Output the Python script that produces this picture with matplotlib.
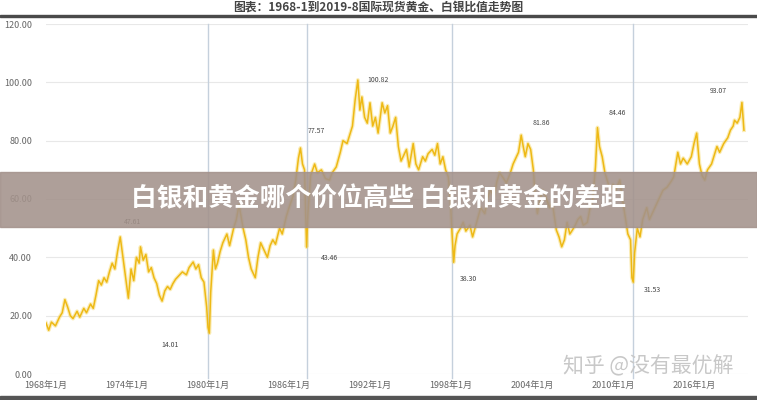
import matplotlib
matplotlib.use("Agg")
import matplotlib.pyplot as plt
from matplotlib.patches import Rectangle

plt.rcParams["font.family"] = ["Noto Sans CJK SC", "DejaVu Sans"]

# gold / silver ratio (year, ratio)
years = [
    1968.0, 1968.2, 1968.4, 1968.7, 1969.0, 1969.2, 1969.4, 1969.6, 1969.8, 1970.0,
    1970.3, 1970.5, 1970.8, 1971.0, 1971.3, 1971.5, 1971.7, 1971.9, 1972.1, 1972.3,
    1972.5, 1972.7, 1972.9, 1973.1, 1973.3, 1973.5, 1973.7, 1973.9, 1974.1, 1974.3,
    1974.5, 1974.7, 1974.9, 1975.0, 1975.2, 1975.4, 1975.6, 1975.8, 1976.0, 1976.2,
    1976.4, 1976.6, 1976.8, 1977.0, 1977.2, 1977.4, 1977.6, 1977.8, 1978.1, 1978.4,
    1978.6, 1978.9, 1979.1, 1979.3, 1979.5, 1979.7, 1979.9, 1980.0, 1980.1, 1980.2,
    1980.4, 1980.55, 1980.7, 1980.9, 1981.1, 1981.4, 1981.6, 1981.9, 1982.1, 1982.3,
    1982.6, 1982.8, 1983.0, 1983.2, 1983.5, 1983.7, 1983.9, 1984.1, 1984.4, 1984.6,
    1984.8, 1985.0, 1985.3, 1985.5, 1985.8, 1986.0, 1986.3, 1986.5, 1986.7, 1986.85,
    1987.0, 1987.15, 1987.3, 1987.4, 1987.6, 1987.9, 1988.1, 1988.4, 1988.7, 1989.0,
    1989.2, 1989.5, 1989.8, 1990.0, 1990.3, 1990.5, 1990.7, 1990.9, 1991.1, 1991.25,
    1991.4, 1991.6, 1991.8, 1992.0, 1992.2, 1992.4, 1992.6, 1992.9, 1993.1, 1993.3,
    1993.5, 1993.7, 1993.9, 1994.1, 1994.3, 1994.5, 1994.7, 1994.9, 1995.2, 1995.4,
    1995.6, 1995.9, 1996.1, 1996.3, 1996.6, 1996.8, 1997.0, 1997.2, 1997.4, 1997.6,
    1997.8, 1997.95, 1998.05, 1998.2, 1998.3, 1998.45, 1998.7, 1998.9, 1999.1, 1999.4,
    1999.6, 1999.9, 2000.2, 2000.5, 2000.7, 2000.9, 2001.2, 2001.4, 2001.6, 2001.9,
    2002.1, 2002.4, 2002.6, 2002.8, 2003.0, 2003.2, 2003.35, 2003.5, 2003.7, 2003.9,
    2004.1, 2004.25, 2004.4, 2004.6, 2004.8, 2005.0, 2005.3, 2005.5, 2005.8, 2006.0,
    2006.2, 2006.4, 2006.6, 2006.8, 2007.0, 2007.2, 2007.4, 2007.6, 2007.8, 2008.1,
    2008.3, 2008.5, 2008.7, 2008.85, 2009.0, 2009.2, 2009.4, 2009.6, 2009.8, 2010.0,
    2010.2, 2010.5, 2010.7, 2010.9, 2011.1, 2011.3, 2011.4, 2011.5, 2011.6, 2011.8,
    2012.0, 2012.2, 2012.5, 2012.7, 2012.9, 2013.2, 2013.5, 2013.7, 2014.0, 2014.3,
    2014.5, 2014.8, 2015.0, 2015.2, 2015.5, 2015.8, 2016.0, 2016.2, 2016.4, 2016.6,
    2016.8, 2017.0, 2017.3, 2017.5, 2017.7, 2017.9, 2018.2, 2018.5, 2018.7, 2018.9,
    2019.0, 2019.2, 2019.4, 2019.55, 2019.7,
]
ratio = [
    17.5, 15.0, 17.8, 16.5, 19.5, 21.0, 25.5, 23.0, 20.0, 19.0,
    21.5, 19.5, 22.5, 21.0, 24.0, 22.5, 27.0, 32.0, 30.5, 33.0,
    31.5, 35.0, 38.0, 36.0, 42.0, 47.0, 40.0, 33.0, 26.0, 36.0,
    32.0, 40.0, 38.0, 43.6, 39.0, 41.0, 35.0, 36.5, 33.0, 31.0,
    27.0, 25.0, 28.5, 30.0, 29.0, 31.0, 32.5, 33.5, 35.0, 34.0,
    36.5, 38.4, 36.0, 37.5, 33.0, 31.5, 23.0, 16.0, 14.0, 28.0,
    42.5, 36.0, 38.0, 42.0, 45.0, 48.0, 44.0, 50.0, 53.0, 58.0,
    50.0, 46.0, 40.0, 36.0, 33.0, 40.0, 45.0, 43.0, 40.0, 44.0,
    46.0, 44.5, 50.0, 48.0, 54.0, 57.0, 61.0, 66.5, 74.0, 77.5,
    72.0, 70.0, 43.5, 55.0, 68.0, 72.0, 69.0, 70.0, 67.0, 66.5,
    69.0, 71.0, 76.0, 80.0, 79.0, 82.0, 85.0, 94.0, 100.8, 90.5,
    95.0, 88.0, 86.0, 93.0, 85.0, 88.0, 82.6, 93.0, 89.5, 92.0,
    82.6, 85.0, 88.0, 78.0, 73.0, 75.0, 77.0, 71.0, 79.0, 72.0,
    70.0, 74.5, 73.0, 75.5, 77.0, 75.0, 79.0, 72.0, 74.5, 70.0,
    67.6, 60.0, 50.4, 38.3, 44.0, 48.0, 50.0, 52.0, 49.0, 51.0,
    47.0, 52.0, 57.0, 55.0, 60.0, 63.0, 61.0, 66.0, 69.0, 67.0,
    65.5, 69.0, 72.0, 74.0, 76.0, 81.9, 78.0, 74.5, 79.0, 77.0,
    70.0, 60.0, 55.0, 60.0, 63.0, 61.0, 57.0, 59.0, 49.4, 47.0,
    43.6, 46.0, 52.0, 48.0, 49.4, 51.0, 53.0, 54.0, 51.0, 52.0,
    57.0, 60.0, 71.0, 84.5, 78.0, 74.5, 69.0, 66.0, 63.0, 65.0,
    63.0, 66.5, 60.0, 54.0, 48.0, 46.0, 33.0, 31.5, 41.5, 50.0,
    47.0, 53.0, 57.0, 53.0, 55.0, 58.0, 61.0, 63.0, 64.0, 66.0,
    67.6, 76.0, 72.0, 74.0, 72.0, 74.5, 79.0, 82.6, 72.0, 68.0,
    66.5, 70.0, 72.0, 75.0, 78.0, 76.0, 79.0, 81.0, 83.6, 85.0,
    87.0, 86.0, 88.0, 93.1, 83.6,
]

tick_years = [1968, 1974, 1980, 1986, 1992, 1998, 2004, 2010, 2016]
tick_labels = [f"{y}年1月" for y in tick_years]
y_ticks = [0, 20, 40, 60, 80, 100, 120]

# marked extremes: value text and where it sits
note_text = ["47.61", "14.01", "77.57", "43.46", "100.82", "38.30", "81.86", "84.46", "31.53", "93.07"]
note_x = [1974.4, 1977.2, 1988.0, 1989.0, 1992.6, 1999.3, 2004.7, 2010.3, 2012.9, 2017.8]
note_y = [52.1, 10.0, 83.4, 39.8, 100.8, 32.6, 86.0, 89.5, 28.8, 97.0]
event_years = [1980.0, 1987.3, 1998.1, 2011.5]

fig = plt.figure(figsize=(7.57, 4.0), dpi=100)
ax = fig.add_axes([46 / 757, 26 / 400, 702 / 757, 350 / 400])

for v in event_years:
    ax.axvline(v, ymin=-0.01, ymax=1, color="#c5d0dc", lw=1.0, zorder=1, clip_on=False)

ax.plot(years, ratio, color="#f6d760", lw=2.8, alpha=0.45, zorder=2)
ax.plot(years, ratio, color="#eeb915", lw=1.1, zorder=3)

for t, x, y in zip(note_text, note_x, note_y):
    ax.text(x, y, t, fontsize=5, color="#444444", ha="center", va="center")

ax.set_xlim(1968.0, 2020.0)
ax.set_ylim(0, 120)
ax.set_yticks(y_ticks)
ax.set_yticklabels([f"{v:.2f}" for v in y_ticks])
ax.set_xticks(tick_years)
ax.set_xticklabels(tick_labels)
ax.tick_params(axis="both", length=0, labelsize=6.5, colors="#666666")
ax.tick_params(axis="y", pad=10)
ax.tick_params(axis="x", pad=5)
ax.grid(axis="y", color="#e8e8e8", lw=0.8)
ax.set_axisbelow(True)
for s in ax.spines.values():
    s.set_visible(False)

# header and frame lines
fig.text(0.5, 0.982, "图表：1968-1到2019-8国际现货黄金、白银比值走势图",
         ha="center", va="center", fontsize=8.5, color="#444444", fontweight="bold")
fig.add_artist(Rectangle((0, 1 - 17 / 400), 1, 2 / 400, transform=fig.transFigure,
                         color="#4a4a4a", zorder=5))
fig.add_artist(Rectangle((0, 0), 1, 4 / 400, transform=fig.transFigure,
                         color="#555555", zorder=5))

# watermark
fig.text(648 / 757, 1 - 366 / 400, "知乎 @没有最优解", ha="center", va="center",
         fontsize=15, color="#c8c8c8", zorder=6)

# banner across the middle
fig.add_artist(Rectangle((0, 1 - 227 / 400), 1, 55 / 400, transform=fig.transFigure,
                         color="#a3928b", alpha=0.88, zorder=10))
fig.text(0.5, 1 - 199 / 400, "白银和黄金哪个价位高些 白银和黄金的差距",
         ha="center", va="center", fontsize=18.5, color="white", fontweight="bold", zorder=11)

fig.savefig("out.png", dpi=100)
